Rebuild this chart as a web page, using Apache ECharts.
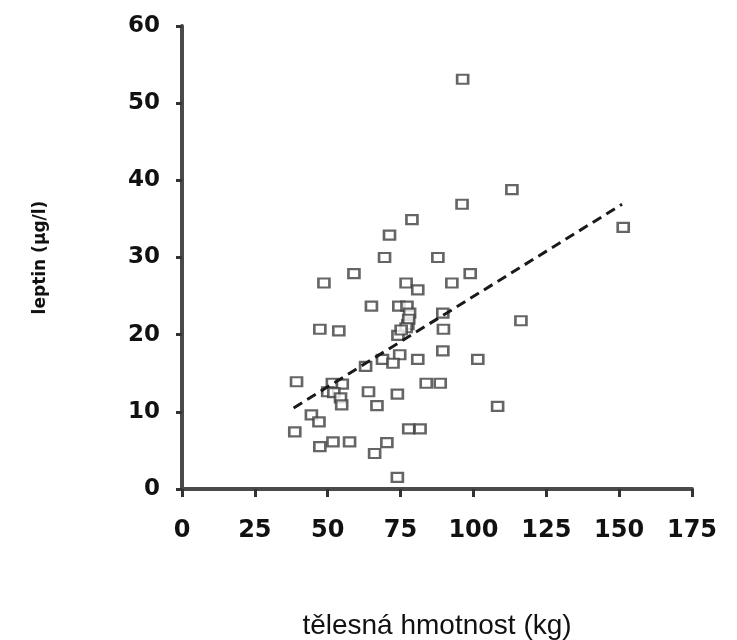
<!DOCTYPE html>
<html>
<head>
<meta charset="utf-8">
<script src="https://cdn.jsdelivr.net/npm/echarts@6/dist/echarts.min.js"></script>
<style>html,body{margin:0;padding:0;background:#fff;}#c{width:737px;height:640px;}</style>
</head>
<body>
<div id="c"></div>
<script>
const xTicks = [0, 25, 50, 75, 100, 125, 150, 175];
const yTicks = [0, 10, 20, 30, 40, 50, 60];
const weight = [96.3,113.2,96.1,151.4,78.9,71.2,69.5,87.8,59.0,48.7,76.9,80.9,98.9,92.6,65.0,74.4,77.2,78.1,77.5,77.8,89.5,76.9,89.7,47.3,53.8,74.1,75.2,89.5,74.7,80.9,68.8,72.4,63.0,39.3,51.6,55.0,50.0,52.1,64.0,73.9,83.8,88.6,54.4,54.8,66.9,44.4,47.0,38.7,77.8,81.7,47.3,51.8,57.5,70.3,66.1,73.9,116.3,101.5,108.3];
const leptin = [53.1,38.8,36.9,33.9,34.9,32.9,30.0,30.0,27.9,26.7,26.7,25.8,27.9,26.7,23.7,23.7,23.7,22.8,21.3,22.0,22.8,20.9,20.7,20.7,20.5,19.9,20.6,17.9,17.4,16.8,16.8,16.3,15.9,13.9,13.7,13.6,12.6,12.5,12.6,12.3,13.7,13.7,11.8,10.9,10.8,9.6,8.7,7.4,7.8,7.8,5.5,6.1,6.1,6.0,4.6,1.5,21.8,16.8,10.7];
const trendX = [38.3, 151.0];
const trendY = [10.5, 36.9];

const points = weight.map((w, i) => [w, leptin[i]]);
const trend = trendX.map((x, i) => [x, trendY[i]]);

const chart = echarts.init(document.getElementById('c'));
chart.setOption({
  animation: false,
  grid: { left: 182, right: 45, top: 26, bottom: 151, containLabel: false, outerBoundsMode: 'none' },
  xAxis: {
    type: 'value', min: 0, max: 175, interval: 25,
    name: 'tělesná hmotnost (kg)', nameLocation: 'middle', nameGap: 123,
    nameTextStyle: { fontFamily: 'Liberation Sans', fontSize: 28, color: '#111' },
    axisLine: { show: true, onZero: false, lineStyle: { color: '#4a4a4a', width: 4 } },
    axisTick: { show: true, inside: false, length: 8, lineStyle: { color: '#333', width: 3 } },
    axisLabel: { margin: 30, fontFamily: 'DejaVu Sans', fontWeight: 'bold', fontSize: 24, color: '#111',
      formatter: v => xTicks.includes(v) ? String(v) : '' },
    splitLine: { show: false }
  },
  yAxis: {
    type: 'value', min: 0, max: 60, interval: 10,
    name: 'leptin (µg/l)', nameLocation: 'middle', nameGap: 133,
    nameTextStyle: { fontFamily: 'DejaVu Sans', fontWeight: 'bold', fontSize: 17, color: '#111' },
    axisLine: { show: true, onZero: false, lineStyle: { color: '#4a4a4a', width: 4 } },
    axisTick: { show: true, inside: false, length: 6, lineStyle: { color: '#333', width: 3 } },
    axisLabel: { margin: 22, fontFamily: 'DejaVu Sans', fontWeight: 'bold', fontSize: 23, color: '#111',
      formatter: v => yTicks.includes(v) ? String(v) : '' },
    splitLine: { show: false }
  },
  series: [
    {
      type: 'scatter', data: points, symbol: 'rect', symbolSize: [11, 9],
      itemStyle: { color: '#ffffff', borderColor: '#3f3f3f', borderWidth: 2.4 },
      z: 3
    },
    {
      type: 'line', data: trend, symbol: 'none',
      lineStyle: { color: '#1a1a1a', width: 3, type: [10, 6] },
      z: 4
    }
  ]
});
</script>
</body>
</html>
